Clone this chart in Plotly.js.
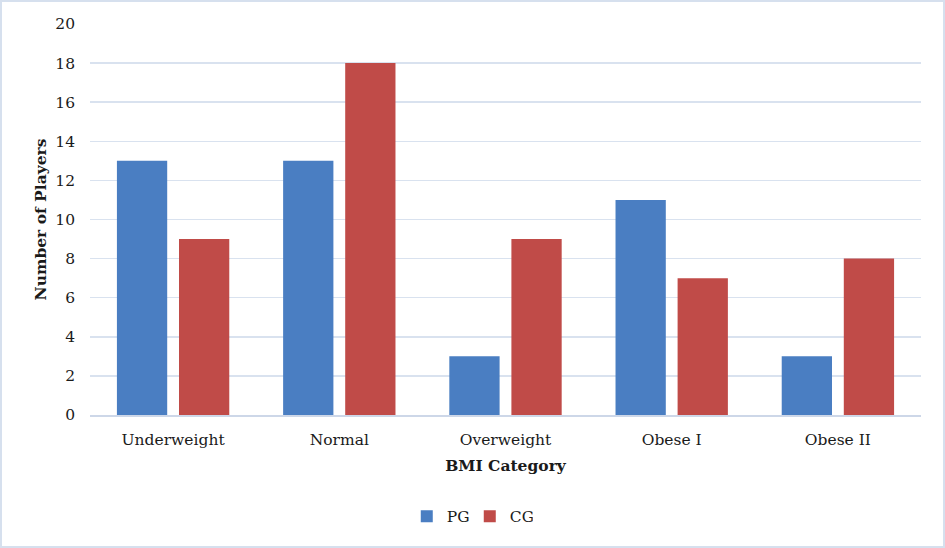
<!DOCTYPE html>
<html>
<head>
<meta charset="utf-8">
<script src="https://cdn.plot.ly/plotly-3.0.1.min.js"></script>
<style>
  body { margin: 0; background: #fff; }
  #chart { width: 945px; height: 548px; }
</style>
</head>
<body>
<div id="chart"></div>
<script>
const categories = ['Underweight', 'Normal', 'Overweight', 'Obese I', 'Obese II'];
const pgValues = [13, 13, 3, 11, 3];
const cgValues = [9, 18, 9, 7, 8];
const yTicks = [0, 2, 4, 6, 8, 10, 12, 14, 16, 18, 20];

const serif = 'DejaVu Serif, Liberation Serif, serif';

const traces = [
    {x: categories, y: pgValues, name: 'PG', type: 'bar',
     marker: {color: '#4a7ec2'}, hoverinfo: 'y'},
    {x: categories, y: cgValues, name: 'CG', type: 'bar',
     marker: {color: '#c04b48'}, hoverinfo: 'y'}
];

const layout = {
    width: 945,
    height: 548,
    margin: {t: 24, l: 90, r: 24, b: 133},
    paper_bgcolor: '#fff',
    plot_bgcolor: '#fff',
    barmode: 'group',
    bargap: 0.253,
    bargroupgap: 0.19,
    font: {family: serif, size: 15.5, color: '#1a1a1a'},
    xaxis: {
        showgrid: false,
        showline: true,
        linecolor: '#cdd7e8',
        linewidth: 1.5,
        ticks: '',
        ticklabelstandoff: 10,
        title: {text: '<b>BMI Category</b>', font: {size: 15.5}, standoff: 12}
    },
    yaxis: {
        range: [0, 20],
        tickvals: yTicks,
        showgrid: true,
        gridcolor: '#d9e2ef',
        gridwidth: 1.5,
        zeroline: false,
        showline: false,
        ticks: '',
        ticklabelstandoff: 14,
        title: {text: '<b>Number of Players</b>', font: {size: 15.5}, standoff: 4}
    },
    legend: {
        orientation: 'h',
        x: 0.457, xanchor: 'center',
        y: -0.26, yanchor: 'middle',
        itemwidth: 30,
        entrywidth: 18,
        traceorder: 'normal'
    },
    shapes: [{
        type: 'rect', xref: 'paper', yref: 'paper',
        x0: -0.1071, x1: 1.0277, y0: -0.3376, y1: 1.0588,
        line: {color: '#d6e0ee', width: 2}
    }]
};

Plotly.newPlot('chart', traces, layout, {staticPlot: true, displayModeBar: false});
</script>
</body>
</html>
